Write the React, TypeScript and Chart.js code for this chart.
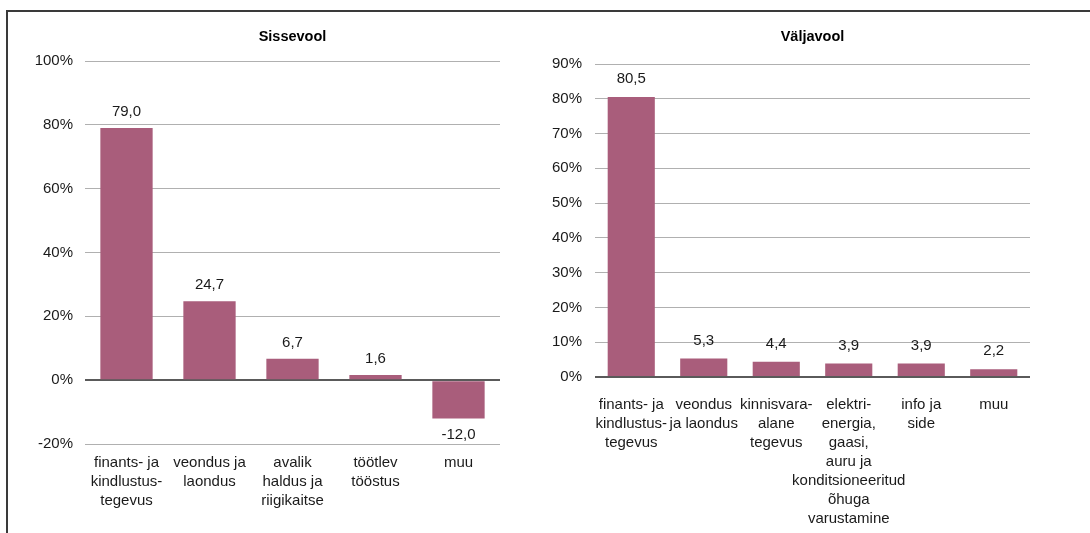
import React, { useEffect, useRef } from "react";
import { Chart, registerables } from "chart.js";

Chart.register(...registerables);

const inflowTitle = "Sissevool";
const inflowLabels: string[][] = [
  ["finants- ja", "kindlustus-", "tegevus"],
  ["veondus ja", "laondus"],
  ["avalik", "haldus ja", "riigikaitse"],
  ["töötlev", "tööstus"],
  ["muu"],
];
const inflowValues: number[] = [79.0, 24.7, 6.7, 1.6, -12.0];
const inflowTicks = { min: -20, max: 100, step: 20 };

const outflowTitle = "Väljavool";
const outflowLabels: string[][] = [
  ["finants- ja", "kindlustus-", "tegevus"],
  ["veondus", "ja laondus"],
  ["kinnisvara-", "alane", "tegevus"],
  ["elektri-", "energia,", "gaasi,", "auru ja", "konditsioneeritud", "õhuga", "varustamine"],
  ["info ja", "side"],
  ["muu"],
];
const outflowValues: number[] = [80.5, 5.3, 4.4, 3.9, 3.9, 2.2];
const outflowTicks = { min: 0, max: 90, step: 10 };

const BAR_COLOR = "#a95d7b";
const FONT = "'Liberation Sans', Arial, Helvetica, sans-serif";

Chart.defaults.font.family = FONT;

type Cfg = {
  title: string;
  labels: string[][];
  values: number[];
  ticks: { min: number; max: number; step: number };
  width: number;
  height: number;
  yWidth: number;
  yPad: number;
  padRight: number;
  titleTop: number;
  titleBottom: number;
  xHeight: number;
  xPad: number;
  barPct: number;
  labelOffPos: number;
  labelOffNeg: number;
};

const valueLabels = {
  id: "valueLabels",
  afterDatasetsDraw(chart: any, _args: any, opts: any) {
    const ctx = chart.ctx;
    const meta = chart.getDatasetMeta(0);
    const data = chart.data.datasets[0].data as number[];
    ctx.save();
    ctx.font = `15px ${FONT}`;
    ctx.fillStyle = "#1a1a1a";
    ctx.textAlign = "center";
    ctx.textBaseline = "middle";
    meta.data.forEach((el: any, i: number) => {
      const v = data[i];
      const txt = v.toFixed(1).replace(".", ",");
      const y = v >= 0 ? el.y - opts.pos : el.y + opts.neg;
      ctx.fillText(txt, el.x, y);
    });
    ctx.restore();
  },
};

function BarChart({ cfg }: { cfg: Cfg }) {
  const ref = useRef<HTMLCanvasElement>(null);
  useEffect(() => {
    if (!ref.current) return;
    const chart = new Chart(ref.current, {
      type: "bar",
      data: {
        labels: cfg.labels,
        datasets: [
          {
            data: cfg.values,
            backgroundColor: BAR_COLOR,
            borderWidth: 0,
            barPercentage: cfg.barPct,
            categoryPercentage: 1,
          },
        ],
      },
      options: {
        responsive: false,
        animation: false,
        layout: { padding: { left: 0, right: cfg.padRight, top: 0, bottom: 0 } },
        plugins: {
          legend: { display: false },
          tooltip: { enabled: false },
          title: {
            display: true,
            text: cfg.title,
            fullSize: false,
            color: "#000",
            font: { size: 14.5, weight: "bold", lineHeight: "16px" },
            padding: { top: cfg.titleTop, bottom: cfg.titleBottom },
          },
          valueLabels: { pos: cfg.labelOffPos, neg: cfg.labelOffNeg },
        } as any,
        scales: {
          x: {
            grid: { display: false, drawTicks: false },
            border: { display: false },
            ticks: {
              color: "#1a1a1a",
              font: { size: 15, lineHeight: "19px" },
              padding: cfg.xPad,
              autoSkip: false,
              maxRotation: 0,
              minRotation: 0,
            },
            afterFit: (s: any) => {
              s.height = cfg.xHeight;
            },
          },
          y: {
            min: cfg.ticks.min,
            max: cfg.ticks.max,
            grid: {
              drawTicks: false,
              color: (c: any) => (c.tick && c.tick.value === 0 ? "#5a5a5a" : "#b0b0b0"),
              lineWidth: (c: any) => (c.tick && c.tick.value === 0 ? 2 : 1),
            },
            border: { display: false },
            ticks: {
              stepSize: cfg.ticks.step,
              color: "#1a1a1a",
              font: { size: 15 },
              padding: cfg.yPad,
              callback: (v: any) => `${v}%`,
            },
            afterFit: (s: any) => {
              s.width = cfg.yWidth;
            },
          },
        },
      },
      plugins: [valueLabels],
    });
    return () => chart.destroy();
  }, [cfg]);
  return <canvas ref={ref} width={cfg.width} height={cfg.height} style={{ display: "block" }} />;
}

const leftCfg: Cfg = {
  title: inflowTitle,
  labels: inflowLabels,
  values: inflowValues,
  ticks: inflowTicks,
  width: 522,
  height: 521,
  yWidth: 77,
  yPad: 12,
  padRight: 30,
  titleTop: 17,
  titleBottom: 16,
  xHeight: 89,
  xPad: 9,
  barPct: 0.63,
  labelOffPos: 16,
  labelOffNeg: 16,
};

const rightCfg: Cfg = {
  title: outflowTitle,
  labels: outflowLabels,
  values: outflowValues,
  ticks: outflowTicks,
  width: 560,
  height: 521,
  yWidth: 65,
  yPad: 13,
  padRight: 60,
  titleTop: 17,
  titleBottom: 19,
  xHeight: 156,
  xPad: 18,
  barPct: 0.65,
  labelOffPos: 18,
  labelOffNeg: 16,
};

export default function App() {
  return (
    <div
      style={{
        position: "absolute",
        left: 0,
        top: 0,
        width: 1090,
        height: 533,
        overflow: "hidden",
        background: "#fff",
      }}
    >
      <div
        style={{
          position: "absolute",
          left: 6,
          top: 10,
          width: 1100,
          height: 540,
          borderTop: "2px solid #3a3a3a",
          borderLeft: "2px solid #3a3a3a",
        }}
      />
      <div style={{ position: "absolute", left: 8, top: 12 }}>
        <BarChart cfg={leftCfg} />
      </div>
      <div style={{ position: "absolute", left: 530, top: 12 }}>
        <BarChart cfg={rightCfg} />
      </div>
    </div>
  );
}
